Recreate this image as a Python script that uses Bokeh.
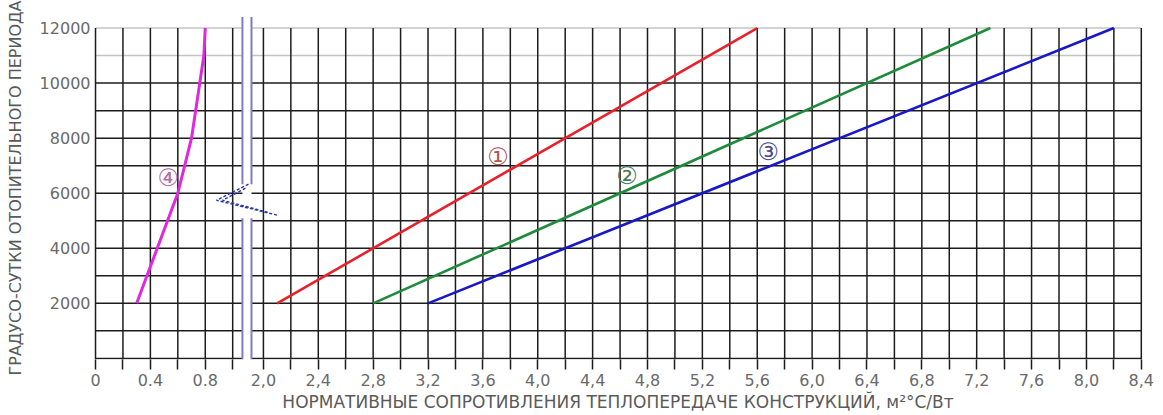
from bokeh.plotting import figure
from bokeh.models import Range1d, FixedTicker, CustomJSTickFormatter
from bokeh.embed import file_html
from bokeh.resources import INLINE
from bokeh.core.properties import value

# ---------------- data ----------------
deg_days = [2000, 12000]                 # градусо-сутки for curves 1-3
walls_R = [2.1, 5.6]                     # curve 1 (red)
attic_R = [2.8, 7.3]                     # curve 2 (green)
roof_R = [3.2, 8.2]                      # curve 3 (blue)
window_days = [2000, 6000, 8000, 11000, 12000]   # curve 4 (magenta)
window_R = [0.3, 0.6, 0.7, 0.79, 0.8]

curve_marks = ["①", "②", "③", "④"]
mark_R = [3.71, 4.65, 5.68, 0.53]
mark_days = [7310, 6620, 7490, 6545]

x_ticks_low = [0.0, 0.2, 0.4, 0.6, 0.8, 1.0]
x_labels_low = ["0", "", "0.4", "", "0.8", ""]
x_ticks_high = [2.0, 2.2, 2.4, 2.6, 2.8, 3.0, 3.2, 3.4, 3.6, 3.8, 4.0, 4.2,
                4.4, 4.6, 4.8, 5.0, 5.2, 5.4, 5.6, 5.8, 6.0, 6.2, 6.4, 6.6,
                6.8, 7.0, 7.2, 7.4, 7.6, 7.8, 8.0, 8.2, 8.4]
x_labels_high = ["2,0", "", "2,4", "", "2,8", "", "3,2", "", "3,6", "", "4,0", "",
                 "4,4", "", "4,8", "", "5,2", "", "5,6", "", "6,0", "", "6,4", "",
                 "6,8", "", "7,2", "", "7,6", "", "8,0", "", "8,4"]
y_ticks = [2000, 4000, 6000, 8000, 10000, 12000]
y_grid = [0, 1000, 2000, 3000, 4000, 5000, 6000, 7000, 8000, 9000, 10000, 11000, 12000]

# ---------------- axis-break layout ----------------
SHIFT = 0.776          # the upper scale is drawn shifted left across the break
BREAK_L = 1.071        # left break line (display units)
BREAK_R = 1.137        # right break line (display units)
Y_START = -40
Y_END = 12420


def disp(v):
    return v if v < 1.5 else v - SHIFT


GRID_DARK = "#1c1c1c"
GRID_LIGHT = "#c4c4c4"
FONT = "DejaVu Sans"

p = figure(width=1163, height=415, output_backend="svg", toolbar_location=None,
           x_range=Range1d(-0.022, 7.64), y_range=Range1d(Y_START, Y_END),
           min_border_left=92, min_border_right=20, min_border_top=16,
           min_border_bottom=56)
p.outline_line_color = None
p.grid.visible = False

# ---- grid (two panels separated by the break) ----
x_end_disp = disp(x_ticks_high[-1])
hx0, hx1, hy, hc = [], [], [], []
for yv in y_grid:
    c = GRID_LIGHT if yv > 10000 else GRID_DARK
    hx0 += [disp(x_ticks_low[0]), BREAK_R]
    hx1 += [BREAK_L, x_end_disp]
    hy += [yv, yv]
    hc += [c, c]
p.segment(x0=hx0, y0=hy, x1=hx1, y1=hy, line_color=hc, line_width=1.5)

vx = [disp(t) for t in x_ticks_low + x_ticks_high]
p.segment(x0=vx, y0=[Y_START] * len(vx), x1=vx, y1=[y_grid[-1]] * len(vx),
          line_color=GRID_DARK, line_width=1.5)

# ---- break lines and break symbol ----
p.segment(x0=[BREAK_L, BREAK_L, BREAK_R, BREAK_R],
          y0=[Y_START, 6330, Y_START, 6330],
          x1=[BREAK_L, BREAK_L, BREAK_R, BREAK_R],
          y1=[5090, 12400, 5090, 12400],
          line_color="#7c7cc8", line_width=2)
p.multi_line(xs=[[1.115, 0.882, 1.327], [1.093, 0.926, 1.254]],
             ys=[[6327, 5745, 5200], [6182, 5745, 5309]],
             line_color="#2a36a8", line_width=1.4, line_dash="3 2")

# ---- curves ----
p.line([disp(v) for v in walls_R], deg_days, line_color="#e8202a", line_width=2.6)
p.line([disp(v) for v in attic_R], deg_days, line_color="#1f8a3c", line_width=2.6)
p.line([disp(v) for v in roof_R], deg_days, line_color="#1818c4", line_width=2.6)
p.line([disp(v) for v in window_R], window_days, line_color="#e028e0", line_width=3)

p.text(x=[disp(v) for v in mark_R], y=mark_days, text=curve_marks,
       text_color=["#b05858", "#4f7a60", "#4a4a90", "#b070a8"],
       text_font=value(FONT), text_font_size="24px",
       text_align="center", text_baseline="middle")

# ---- axes ----
xa = p.xaxis[0]
tick_pos = [disp(t) for t in x_ticks_low + x_ticks_high]
tick_lab = x_labels_low + x_labels_high
xa.ticker = FixedTicker(ticks=tick_pos)
xa.formatter = CustomJSTickFormatter(args=dict(pos=tick_pos, lab=tick_lab), code="""
for (let i = 0; i < pos.length; i++) {
  if (Math.abs(pos[i] - tick) < 1e-6) { return lab[i] }
}
return ""
""")
xa.axis_line_color = None
xa.major_tick_out = 10
xa.major_tick_in = 0
xa.minor_tick_out = 0
xa.minor_tick_in = 0
xa.major_tick_line_color = GRID_DARK
xa.major_tick_line_width = 1.5
xa.major_label_standoff = 4
xa.major_label_text_font = FONT
xa.major_label_text_font_size = "16px"
xa.major_label_text_color = "#6a6a6a"
xa.axis_label = "НОРМАТИВНЫЕ СОПРОТИВЛЕНИЯ ТЕПЛОПЕРЕДАЧЕ КОНСТРУКЦИЙ, м²°C/Вт"
xa.axis_label_text_font = FONT
xa.axis_label_text_font_size = "17px"
xa.axis_label_text_font_style = "normal"
xa.axis_label_text_color = "#5a5a5a"
xa.axis_label_standoff = 3

ya = p.yaxis[0]
ya.ticker = FixedTicker(ticks=y_ticks)
ya.axis_line_color = None
ya.major_tick_out = 0
ya.major_tick_in = 0
ya.minor_tick_out = 0
ya.minor_tick_in = 0
ya.major_label_standoff = 2
ya.major_label_text_font = FONT
ya.major_label_text_font_size = "16px"
ya.major_label_text_color = "#6a6a6a"
ya.axis_label = "ГРАДУСО-СУТКИ ОТОПИТЕЛЬНОГО ПЕРИОДА"
ya.axis_label_text_font = FONT
ya.axis_label_text_font_size = "16px"
ya.axis_label_text_font_style = "normal"
ya.axis_label_text_color = "#5a5a5a"
ya.axis_label_standoff = 12

open("out.html", "w").write(file_html(p, INLINE))
